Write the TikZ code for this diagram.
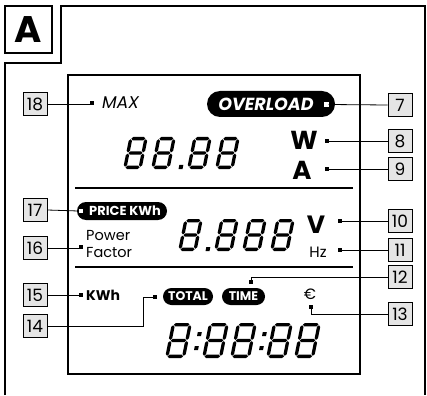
\documentclass[tikz,border=0pt]{standalone}
\usepackage{fontspec}
\setmainfont{Poppins}
\def\st{3.3}\def\sg{0.6}
\newcommand\myhseg[3]{\fill ({#2+\sg},{#1}) -- ({#2+\sg+\st/2},{#1+\st/2}) -- ({#3-\sg-\st/2},{#1+\st/2}) -- ({#3-\sg},{#1}) -- ({#3-\sg-\st/2},{#1-\st/2}) -- ({#2+\sg+\st/2},{#1-\st/2}) -- cycle;}
\newcommand\myvseg[3]{\fill ({#1},{#2+\sg}) -- ({#1+\st/2},{#2+\sg+\st/2}) -- ({#1+\st/2},{#3-\sg-\st/2}) -- ({#1},{#3-\sg}) -- ({#1-\st/2},{#3-\sg-\st/2}) -- ({#1-\st/2},{#2+\sg+\st/2}) -- cycle;}
\newcommand\mydigit[4]{%
 \begin{scope}[shift={(#1,#2)},x={(1pt,0pt)},y={(0.2pt,1pt)}]
  \def\dw{#3}\def\dh{#4}
  \myhseg{\dh-\st/2}{\st/2}{\dw-\st/2}
  \myhseg{\dh/2}{\st/2}{\dw-\st/2}
  \myhseg{\st/2}{\st/2}{\dw-\st/2}
  \myvseg{\st/2}{\st/2}{\dh/2}
  \myvseg{\st/2}{\dh/2}{\dh-\st/2}
  \myvseg{\dw-\st/2}{\st/2}{\dh/2}
  \myvseg{\dw-\st/2}{\dh/2}{\dh-\st/2}
 \end{scope}}
\newcommand\mydot[2]{\fill (#1,#2) -- ++(4,0) -- ++(0.8,-4) -- ++(-4,0) -- cycle;}
\begin{document}
\begin{tikzpicture}[x=1pt,y=-1pt,
  frame/.style={line width=1.5pt},
  callout/.style={draw=black,line width=0.8pt,fill=black!10,minimum width=24pt,minimum height=23pt,inner sep=0pt,font=\fontsize{17}{17}\selectfont},
  sq/.style={fill=black,minimum size=4.5pt,inner sep=0pt},
  wsq/.style={fill=white,minimum size=5pt,inner sep=0pt},
  lead/.style={line width=0.8pt},
  pill/.style={fill=black,inner sep=0pt},
  pilltext/.style={text=white,font=\bfseries\fontsize{12.5}{12.5}\selectfont,inner sep=0pt},
  lbl/.style={inner sep=0pt}]
\useasboundingbox (0,0) rectangle (427,395);
% outer frame
\draw[frame] (5,395) -- (5,63) -- (61,63) -- (61,6) -- (425,6) -- (425,395);
\node[draw,line width=1.5pt,minimum width=47pt,minimum height=47pt,inner sep=0pt,font=\bfseries\fontsize{37}{37}\selectfont] (lblA) at (28.5,29.5) {A};
% LCD
\draw[line width=2pt] (68,75) rectangle (360,374);
\draw[line width=2.2pt] (75,188) -- (353,188);
\draw[line width=2.2pt] (75,267) -- (353,267);
% row 1
\node[lbl,anchor=base west,font=\itshape\fontsize{17}{17}\selectfont] (max) at (102,108.5) {MAX};
\node[sq] (d18) at (92,103) {};
\node[pill,rounded corners=13pt,minimum width=128pt,minimum height=26pt] (ovl) at (271,104) {};
\node[pilltext,font=\bfseries\itshape\fontsize{17.5}{17.5}\selectfont] (ovlt) at (266,104) {OVERLOAD};
\node[wsq] (d7) at (326,104.5) {};
% 88.88
\mydigit{123}{169}{18.5}{32}
\mydigit{151}{169}{18.5}{32}
\mydot{178.5}{169}
\mydigit{187}{169}{18.5}{32}
\mydigit{215}{169}{18.5}{32}
\node[lbl,anchor=base,font=\bfseries\fontsize{26}{26}\selectfont] (w) at (304,149.5) {W};
\node[sq] (d8) at (327,141) {};
\node[lbl,anchor=base,font=\bfseries\fontsize{26}{26}\selectfont] (a) at (302,179.5) {A};
\node[sq] (d9) at (327,169) {};
% row 2
\node[pill,rounded corners=9pt,minimum width=90pt,minimum height=18pt] (price) at (122,211) {};
\node[pilltext,font=\bfseries\fontsize{13}{13}\selectfont] (pricet) at (125,211) {PRICE KWh};
\node[wsq,minimum size=4pt] (d17) at (80.5,211) {};
\node[lbl,anchor=base west,font=\fontsize{14.5}{14.5}\selectfont] (pw) at (86,240.5) {Power};
\node[lbl,anchor=base west,font=\fontsize{14.5}{14.5}\selectfont] (pf) at (86,257.5) {Factor};
\node[sq] (d16) at (81,247) {};
\mydigit{178}{251}{18.5}{32}
\mydot{205.5}{251}
\mydigit{214}{251}{18.5}{32}
\mydigit{242}{251}{18.5}{32}
\mydigit{270}{251}{18.5}{32}
\node[lbl,anchor=base,font=\bfseries\fontsize{25}{25}\selectfont] (v) at (316,233.5) {V};
\node[sq] (d10) at (340,221) {};
\node[lbl,anchor=base,font=\fontsize{15}{15}\selectfont] (hz) at (318,257.5) {Hz};
\node[sq] (d11) at (340,250) {};
% row 3
\node[lbl,anchor=base west,font=\bfseries\fontsize{14}{14}\selectfont] (kwh) at (86,300) {KWh};
\node[sq] (d15) at (81,295) {};
\node[pill,rounded corners=8.5pt,minimum width=50pt,minimum height=17pt] (total) at (188,296.5) {};
\node[pilltext] (totalt) at (188,296.5) {TOTAL};
\node[pill,rounded corners=8.5pt,minimum width=43pt,minimum height=17pt] (time) at (243.5,296.5) {};
\node[pilltext] (timet) at (243.5,296.5) {TIME};
\node[sq] (d14) at (155,297) {};
\node[sq] (d12) at (251,282) {};
\node[lbl,anchor=base,font=\fontsize{15}{15}\selectfont] (euro) at (310,299.5) {€};
\node[sq] (d13) at (311,307) {};
\mydigit{165}{358}{20}{35}
\mydot{194}{350}
\mydot{197}{336}
\mydigit{202}{358}{20}{35}
\mydigit{230}{358}{20}{35}
\mydot{259}{350}
\mydot{262}{336}
\mydigit{266}{358}{20}{35}
\mydigit{294}{358}{20}{35}
% callouts
\node[callout] (c18) at (35,104) {18};
\node[callout] (c17) at (35,210) {17};
\node[callout] (c16) at (35,248) {16};
\node[callout] (c15) at (35,295) {15};
\node[callout] (c14) at (35,326) {14};
\node[callout] (c7) at (400,105) {7};
\node[callout] (c8) at (400,141) {8};
\node[callout] (c9) at (400,169) {9};
\node[callout] (c10) at (400,221) {10};
\node[callout] (c11) at (400,250) {11};
\node[callout] (c12) at (400,277) {12};
\node[callout] (c13) at (400,314) {13};
% leaders
\draw[lead] (c18.east) -- (c18.east -| d18.west);
\draw[lead] (c17.east) -- (d17.west);
\draw[lead] (c16.east) -- (c16.east -| d16.west);
\draw[lead] (c15.east) -- (d15.west);
\coordinate (k14) at (143,297);
\draw[lead] (d14.west) -- (k14) |- (c14.east);
\draw[lead] (d7.east) -- (c7.west);
\draw[lead] (d8.east) -- (c8.west);
\draw[lead] (d9.east) -- (c9.west);
\draw[lead] (d10.east) -- (c10.west);
\draw[lead] (d11.east) -- (c11.west);
\draw[lead] (d12.north) |- (c12.west);
\draw[lead] (d13.south) |- (c13.west);
\end{tikzpicture}
\end{document}
